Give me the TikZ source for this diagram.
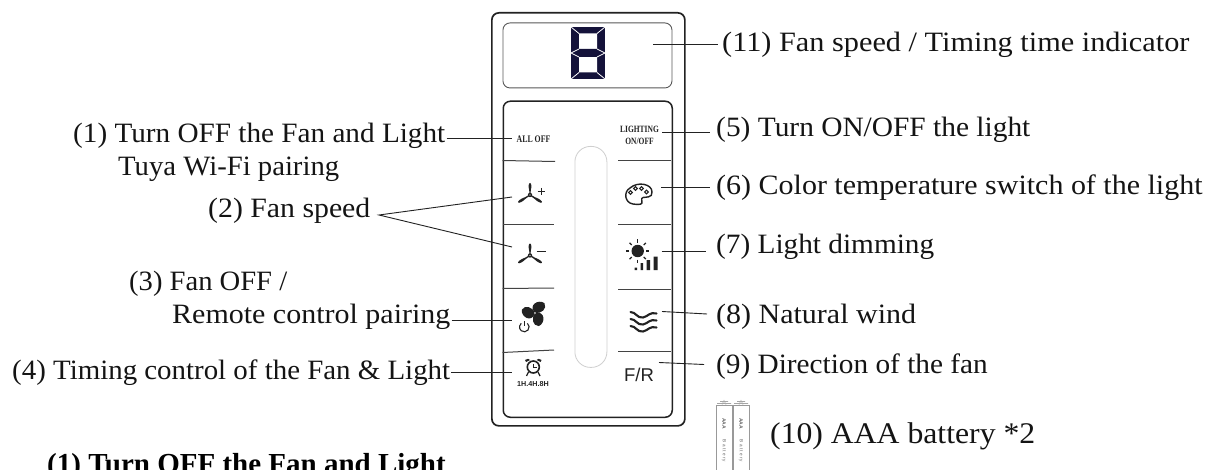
\documentclass[tikz,border=0pt]{standalone}
\usepackage{fontspec}
\setmainfont{Liberation Serif}
\newfontfamily\cond[FakeStretch=0.78]{Liberation Serif}
\setsansfont{Liberation Sans}
\definecolor{ink}{HTML}{222222}
\definecolor{navy}{HTML}{14123A}
\definecolor{slotc}{HTML}{CFCFCF}
\newcommand{\oneblade}[4]{% x y angle length
  \fill[ink,shift={(#1,#2)},rotate=#3] (-0.5,0) -- (-0.8,{-0.4*#4}) .. controls (-1.8,{-0.7*#4}) and (-1.4,{-#4}) .. (0,{-#4}) .. controls (1.4,{-#4}) and (1.8,{-0.7*#4}) .. (0.8,{-0.4*#4}) -- (0.5,0) -- cycle;
}
\newcommand{\bladefan}[2]{%
  \oneblade{#1}{#2}{0}{12}
  \oneblade{#1}{#2}{122}{14}
  \oneblade{#1}{#2}{-122}{14}
  \fill[ink] (#1,#2) circle (2.2);
  \fill[white] (#1,#2) circle (0.6);
}
\begin{document}
\begin{tikzpicture}[x=1pt,y=-1pt,
  txt/.style={font=\fontsize{28}{30}\selectfont\addfontfeature{FakeStretch=#1},inner sep=0pt,anchor=base west,text=black!92},
  big/.style={font=\fontsize{30}{32}\selectfont\addfontfeature{FakeStretch=#1},inner sep=0pt,anchor=base west,text=black!92},
  lead/.style={draw=ink,line width=0.9pt},
  rule/.style={draw=ink!85,line width=1pt},
  key/.style={inner sep=0pt,text=ink},
  tiny/.style={font=\sffamily\fontsize{4.6}{5}\selectfont,text=black!60,rotate=-90,inner sep=0pt}]
\useasboundingbox (0,0) rectangle (1206,470);
\clip (0,0) rectangle (1206,470);
\fill[white] (0,0) rectangle (1206,470);
% body
\node[draw=ink,line width=1.7pt,rounded corners=7pt,minimum width=193pt,minimum height=413pt,inner sep=0pt,anchor=north west] (body) at (491,12) {};
\node[draw=black!65,line width=0.9pt,rounded corners=7pt,minimum width=169pt,minimum height=65pt,inner sep=0pt,anchor=north west] (display) at (502.5,22.5) {};
\node[draw=ink,line width=1.5pt,rounded corners=7pt,minimum width=169pt,minimum height=316pt,inner sep=0pt,anchor=north west] (panel) at (502.5,100.5) {};
\node[draw=slotc,line width=0.8pt,rounded corners=15.5pt,minimum width=32pt,minimum height=221pt,inner sep=0pt,anchor=north west] (slot) at (574.5,146) {};
% dividers
\draw[rule] (502.5,160.5) -- (555,161.5);
\draw[rule] (502.5,225) -- (554,225);
\draw[rule] (502.5,288.5) -- (554,288);
\draw[rule] (502.5,352.5) -- (554,350);
\draw[rule] (618,161) -- (671,161);
\draw[rule] (618,225) -- (671,225);
\draw[rule] (618,289) -- (671,289);
\draw[rule] (618,351.5) -- (671,351.5);
% seven segment digit
\fill[navy] (571,27) rectangle (605,79);
\fill[white] (579,33.5) rectangle (597,49.5) (579,56.5) rectangle (597,72.5);
\fill[navy] (579,49) -- (597,49) -- (601,53) -- (597,57) -- (579,57) -- (575,53) -- cycle;
\draw[white,line width=0.8pt] (571,27) -- (579,33.5) (605,27) -- (597,33.5) (571,79) -- (579,72.5) (605,79) -- (597,72.5)
  (571,53) -- (579,49) (605,53) -- (597,49) (571,53) -- (579,57) (605,53) -- (597,57);
% keys: text
\node[key,font=\cond\bfseries\fontsize{10}{12}\selectfont] (alloff) at (533.5,139.5) {ALL OFF};
\node[key,font=\cond\bfseries\fontsize{9.6}{12}\selectfont,align=center] (lighting) at (639.5,135) {LIGHTING\\ON/OFF};
\node[key,font=\sffamily\fontsize{18.5}{20}\selectfont] (fr) at (639,375) {F/R};
\node[key,font=\sffamily\bfseries\fontsize{7.2}{8}\selectfont] (timing) at (533,384) {1H.4H.8H};
% fan + and fan -
\bladefan{530}{195}
\draw[ink,line width=1.4pt] (537.5,191.7) -- (545,191.7) (541.2,188) -- (541.2,195.5);
\bladefan{530}{255.5}
\draw[ink,line width=1.4pt] (536.5,251.7) -- (545.7,251.7);
\coordinate (fanplus) at (512,197);
\coordinate (fanminus) at (512,247);
% fan off
\foreach \a in {10,130,250}{
  \fill[ink,rotate around={\a:(535,313)}] (535,313) .. controls (529,304) and (541,299.5) .. (546,305) .. controls (548,311) and (541,315) .. (535,313) -- cycle;
}
\fill[white] (535,313) circle (0.9);
\draw[ink,line width=1.1pt] (524.3,327) ++(-50:4.8) arc[start angle=-50,end angle=230,radius=4.8];
\draw[ink,line width=1.1pt] (524.3,321) -- (524.3,326);
\coordinate (fanoff) at (512,320.5);
% alarm clock
\draw[ink,line width=1.6pt,fill=white] (533.3,367) circle (6);
\draw[ink,line width=0.9pt] (533.3,363.5) -- (533.3,367.5) -- (536.5,367.5);
\fill[ink] (526,362) -- (530,360) -- (528,358.8) -- (525,360) -- cycle (540.6,362) -- (536.6,360) -- (538.6,358.8) -- (541.6,360) -- cycle;
\draw[ink,line width=1.3pt] (528.5,372) -- (526.5,376) (538,372) -- (540,376);
\coordinate (clock) at (512,372);
% palette
\draw[ink,line width=1.4pt] (633,204) .. controls (625,203) and (623,192) .. (630,188) .. controls (638,181) and (652,184) .. (652,192) .. controls (653,198) and (645,197) .. (643,197.5) .. controls (640,199) and (643,201) .. (642,203) .. controls (641,205) and (637,204.5) .. (633,204) -- cycle;
\foreach \p in {(630.5,192.5),(635.5,188.5),(641.5,188.5),(646.5,192)}{\draw[ink,line width=1pt] \p circle (1.9);}
\coordinate (palette) at (661,187.5);
% sun and bars
\fill[ink] (637.7,251) circle (6.2);
\foreach \a in {0,45,...,315}{\draw[ink,line width=1.3pt] (637.7,251) ++(\a:8.5) -- ++(\a:3);}
\fill[ink] (634.5,267.5) rectangle (637,270) (640.5,263) rectangle (643,270) (646.5,260) rectangle (650,270) (653.5,256.5) rectangle (657.5,270);
\coordinate (sun) at (661.5,251);
% wind
\foreach \yy in {315,322,329}{
  \draw[ink,line width=2.1pt,line cap=round] (630.5,\yy-3) .. controls (636,\yy-3) and (637,\yy+3.5) .. (643,\yy+2.5) .. controls (648,\yy+1.5) and (650,\yy-3.5) .. (656.5,\yy-1.5);
}
\coordinate (wind) at (662,311.5);
% batteries
\foreach \bx/\nm in {716/a,733/b}{
  \draw[black!40,line width=0.5pt] (\bx,470) -- (\bx,405) -- (\bx+16,405) -- (\bx+16,470);
  \draw[black!35,line width=0.6pt] (\bx+1,403.5) -- (\bx+15,403.5) (\bx+4,401.5) -- (\bx+12,401.5) (\bx+6,404.5) -- (\bx+8,400.5) -- (\bx+10,404.5);
  \node[tiny,font=\sffamily\bfseries\fontsize{5}{5}\selectfont] (aaa\nm) at (\bx+8,423.5) {AAA};
  \node[tiny] (batt\nm) at (\bx+8,451) {B a t t e r y};
}
% labels left
\node[txt=1.043] (l1) at (73,142.5) {(1) Turn OFF the Fan and Light};
\node[txt=1.025] (l1b) at (118,175.5) {Tuya Wi-Fi pairing};
\node[txt=1.064] (l2) at (208,218) {(2) Fan speed};
\node[txt=1.021] (l3) at (129,290) {(3) Fan OFF /};
\node[txt=1.071] (l3b) at (172,323) {Remote control pairing};
\node[txt=1.032] (l4) at (12,379) {(4) Timing control of the Fan \& Light};
% labels right
\node[txt=1.082] (r11) at (722,52) {(11) Fan speed / Timing time indicator};
\node[txt=1.05] (r5) at (716,137) {(5) Turn ON/OFF the light};
\node[txt=1.071] (r6) at (716,195) {(6) Color temperature switch of the light};
\node[txt=1.046] (r7) at (716,254) {(7) Light dimming};
\node[txt=1.071] (r8) at (716,323) {(8) Natural wind};
\node[txt=1.046] (r9) at (716,373) {(9) Direction of the fan};
\node[big=1.057] (r10) at (770,443) {(10) AAA battery *2};
\node[font=\bfseries\fontsize{29}{31}\selectfont,inner sep=0pt,anchor=base west] (note) at (47,473) {(1) Turn OFF the Fan and Light};
% connectors
\coordinate (alloffend) at (512,138);
\draw[lead] (l1.east |- alloffend) ++(1,0) -- (alloffend);
\coordinate (l2a) at (379,215);
\draw[lead] (fanplus) -- (l2a) -- (fanminus);
\draw[lead] (l3b.east |- fanoff) ++(1,0) -- (fanoff);
\draw[lead] (l4.east |- clock) ++(1,0) -- (clock);
\coordinate (dispend) at (653,44);
\draw[lead] (dispend) -- ([xshift=-4pt]r11.west |- dispend);
\coordinate (lightend) at (662,132);
\draw[lead] (lightend) -- ([xshift=-6pt]r5.west |- lightend);
\draw[lead] (palette) -- ([xshift=-6pt]r6.west |- palette);
\draw[lead] (sun) -- ([xshift=-10pt]r7.west |- sun);
\coordinate (windlab) at (707,314);
\draw[lead] (wind) -- (windlab);
\coordinate (frend) at (659,362.5);
\coordinate (frlab) at (704,364.5);
\draw[lead] (frend) -- (frlab);
\end{tikzpicture}
\end{document}
